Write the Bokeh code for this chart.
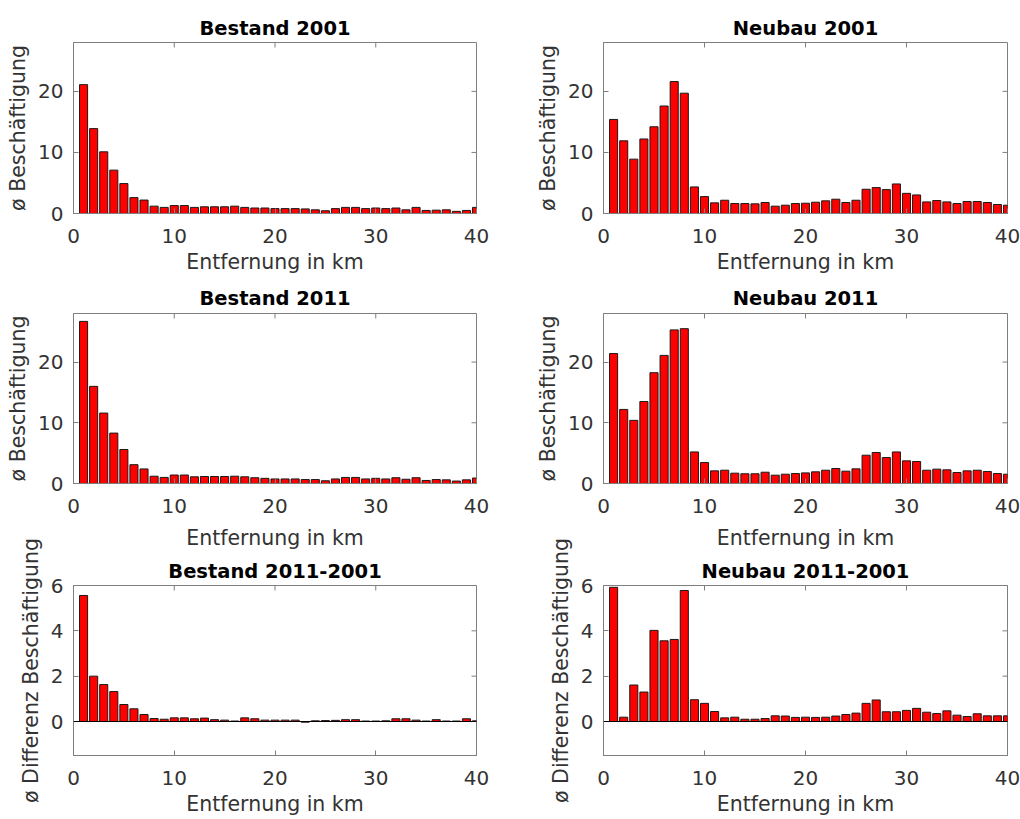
from bokeh.plotting import figure
from bokeh.models import FixedTicker, Span, Range1d, Title
from bokeh.layouts import column, row
from bokeh.embed import file_html
from bokeh.resources import INLINE

km = list(range(1, 41))
x_ticks = [0, 10, 20, 30, 40]
y_ticks_level = [0, 10, 20]
y_ticks_diff = [0, 2, 4, 6]

bestand_2001 = [21.1, 13.9, 10.1, 7.1, 4.9, 2.6, 2.2, 1.2, 1.0, 1.3, 1.3, 1.0, 1.1, 1.1, 1.1, 1.2,
                1.0, 0.9, 0.9, 0.8, 0.8, 0.8, 0.75, 0.6, 0.45, 0.8, 1.0, 1.0, 0.8, 0.9, 0.8, 0.9,
                0.6, 1.0, 0.5, 0.55, 0.6, 0.35, 0.5, 1.0]
neubau_2001 = [15.4, 11.9, 8.9, 12.2, 14.2, 17.6, 21.6, 19.7, 4.35, 2.77, 1.74, 2.17, 1.63, 1.63,
               1.58, 1.8, 1.2, 1.36, 1.63, 1.68, 1.85, 2.07, 2.34, 1.8, 2.17, 3.97, 4.24, 3.91,
               4.84, 3.3, 3.04, 1.9, 2.12, 1.9, 1.63, 1.96, 1.96, 1.8, 1.47, 1.36]
bestand_2011 = [26.7, 16.0, 11.6, 8.3, 5.6, 3.1, 2.4, 1.2, 1.0, 1.4, 1.4, 1.1, 1.15, 1.15, 1.15,
                1.2, 1.1, 0.95, 0.85, 0.75, 0.75, 0.75, 0.65, 0.65, 0.45, 0.75, 1.0, 1.0, 0.75,
                0.85, 0.75, 0.95, 0.7, 0.95, 0.5, 0.65, 0.6, 0.4, 0.6, 0.9]
neubau_2011 = [21.4, 12.2, 10.4, 13.5, 18.25, 21.1, 25.3, 25.5, 5.2, 3.45, 2.08, 2.19, 1.7, 1.6,
               1.6, 1.86, 1.37, 1.53, 1.64, 1.75, 1.92, 2.19, 2.47, 2.03, 2.41, 4.66, 5.1, 4.27,
               5.2, 3.73, 3.62, 2.19, 2.36, 2.25, 1.81, 2.08, 2.19, 1.97, 1.64, 1.53]
bestand_diff = [5.56, 2.0, 1.63, 1.32, 0.75, 0.56, 0.31, 0.13, 0.1, 0.16, 0.16, 0.12, 0.15, 0.08,
                0.06, 0.02, 0.16, 0.12, 0.06, 0.06, 0.06, 0.06, -0.03, 0.03, 0.04, 0.05, 0.08,
                0.08, 0.02, 0.02, 0.03, 0.12, 0.12, 0.06, 0.02, 0.08, 0.02, 0.02, 0.12, 0.03]
neubau_diff = [5.92, 0.19, 1.61, 1.3, 4.02, 3.56, 3.62, 5.78, 0.96, 0.8, 0.44, 0.16, 0.19, 0.1,
               0.1, 0.13, 0.25, 0.24, 0.18, 0.19, 0.18, 0.19, 0.24, 0.31, 0.37, 0.8, 0.95, 0.43,
               0.43, 0.49, 0.58, 0.41, 0.35, 0.47, 0.28, 0.22, 0.34, 0.25, 0.25, 0.25]

FONT = "DejaVu Sans"
GRAY = "#7f7f7f"
TXT = "#333333"
TICK_PX = 5
X_RANGE = (0, 40)
XLABEL = "Entfernung in km"
LBL = "ø Beschäftigung"
LBL_D = "ø Differenz Beschäftigung"


def style_axis(ax, ticks):
    ax.ticker = FixedTicker(ticks=ticks)
    ax.axis_line_color = GRAY
    ax.major_tick_line_color = GRAY
    ax.major_tick_in = TICK_PX
    ax.major_tick_out = 0
    ax.minor_tick_line_color = None
    ax.major_label_text_font = FONT
    ax.major_label_text_color = TXT
    ax.major_label_text_font_size = "20px"
    ax.axis_label_text_font = FONT
    ax.axis_label_text_font_size = "20.5px"
    ax.axis_label_text_font_style = "normal"
    ax.axis_label_text_color = TXT


def add_title(p, text, bold, standoff, valign):
    t = Title(text=text, align="center", text_font=FONT,
              text_font_size="19.5px" if bold else "20.5px",
              text_font_style="bold" if bold else "normal",
              text_color="#000000" if bold else TXT,
              standoff=standoff, vertical_align=valign)
    p.add_layout(t, "above")


def panel(title, vals, ylim, yticks, ylabel, left, right, top, bottom, fw, fh,
          title_standoff, own_xlabel=True, xlabel_above=False, zero_line=False):
    p = figure(frame_width=fw, frame_height=fh, x_range=Range1d(*X_RANGE),
               y_range=Range1d(*ylim), output_backend="svg", toolbar_location=None,
               min_border_left=left, min_border_right=right,
               min_border_top=top, min_border_bottom=bottom, title=None)
    # panel title nearest the frame
    add_title(p, title, True, title_standoff, "bottom")
    if xlabel_above:
        # x-axis label of the panel above, drawn at the top of this canvas
        add_title(p, XLABEL, False, 7, "top")
    p.xgrid.visible = False
    p.ygrid.visible = False
    p.outline_line_color = GRAY
    p.outline_line_width = 1
    p.vbar(x=km, top=vals, bottom=0, width=0.8, fill_color="#ff0000",
           line_color="#1a1a1a", line_width=1)
    if zero_line:
        p.add_layout(Span(location=0, dimension="width", line_color="#000000", line_width=1))
    xa = p.xaxis[0]
    ya = p.yaxis[0]
    style_axis(xa, x_ticks)
    style_axis(ya, yticks)
    xa.major_label_standoff = 15
    ya.major_label_standoff = 10
    if own_xlabel:
        xa.axis_label = XLABEL
        xa.axis_label_standoff = 4
    ya.axis_label = ylabel
    ya.axis_label_standoff = 5
    # mirrored inward ticks on the top and right edges of the box
    dy = (ylim[1] - ylim[0]) * TICK_PX / fh
    dx = (X_RANGE[1] - X_RANGE[0]) * TICK_PX / fw
    p.segment(x0=x_ticks, y0=[ylim[1]] * len(x_ticks), x1=x_ticks,
              y1=[ylim[1] - dy] * len(x_ticks), line_color=GRAY, line_width=1)
    p.segment(x0=[X_RANGE[1]] * len(yticks), y0=yticks, x1=[X_RANGE[1] - dx] * len(yticks),
              y1=yticks, line_color=GRAY, line_width=1)
    return p


# left column: [73 | 403 | 27], right column: [100 | 404 | 13]
# rows: 0-280 (frame 42-213), 280-522 (frame 313-483), 522-bottom (frame 585-755)
p1 = panel("Bestand 2001", bestand_2001, (0, 28), y_ticks_level, LBL, 73, 27, 42, 67, 403, 171, 5)
p2 = panel("Neubau 2001", neubau_2001, (0, 28), y_ticks_level, LBL, 100, 13, 42, 67, 404, 171, 5)
p3 = panel("Bestand 2011", bestand_2011, (0, 28), y_ticks_level, LBL, 73, 27, 33, 39, 403, 170, 8,
           own_xlabel=False)
p4 = panel("Neubau 2011", neubau_2011, (0, 28), y_ticks_level, LBL, 100, 13, 33, 39, 404, 170, 8,
           own_xlabel=False)
p5 = panel("Bestand 2011-2001", bestand_diff, (-1.5, 6), y_ticks_diff, LBL_D, 73, 27, 63, 64, 403,
           170, 5, xlabel_above=True, zero_line=True)
p6 = panel("Neubau 2011-2001", neubau_diff, (-1.5, 6), y_ticks_diff, LBL_D, 100, 13, 63, 64, 404,
           170, 5, xlabel_above=True, zero_line=True)

layout = column(row(p1, p2), row(p3, p4), row(p5, p6))

open("out.html", "w").write(file_html(layout, INLINE))
